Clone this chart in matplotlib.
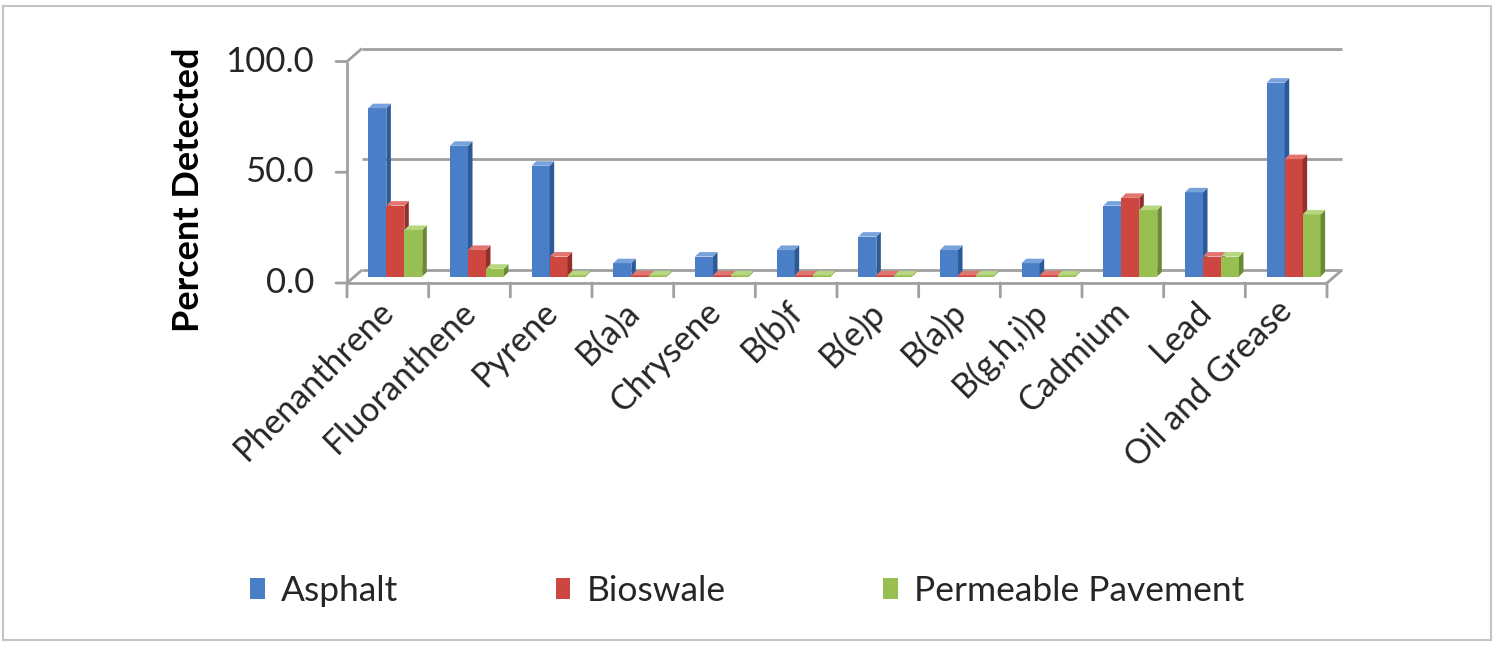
import matplotlib

matplotlib.use("Agg")
import matplotlib.pyplot as plt
import matplotlib.transforms as mtransforms
from matplotlib.patches import Polygon, Rectangle

categories = ["Phenanthrene", "Fluoranthene", "Pyrene", "B(a)a", "Chrysene",
              "B(b)f", "B(e)p", "B(a)p", "B(g,h,i)p", "Cadmium", "Lead",
              "Oil and Grease"]
asphalt = [76.0, 59.0, 50.0, 6.0, 9.0, 12.0, 18.0, 12.0, 6.0, 32.0, 38.0, 87.5]
bioswale = [32.0, 12.0, 9.0, 0.5, 0.5, 0.5, 0.5, 0.5, 0.5, 35.5, 9.0, 53.0]
permeable = [21.0, 3.5, 0.5, 0.5, 0.5, 0.5, 0.5, 0.5, 0.5, 30.0, 9.0, 28.0]
series_names = ["Asphalt", "Bioswale", "Permeable Pavement"]
y_ticks = [0, 50, 100]

# front / side / top shades for each series
shades = [
    ("#4A7EC6", "#2D5A96", "#78A2DC"),
    ("#CE4640", "#93302B", "#E27570"),
    ("#97BF52", "#678A32", "#B6D67F"),
]

W, H, DPI = 1497, 645, 100
plt.rcParams["font.family"] = ["Lato", "DejaVu Sans"]

fig = plt.figure(figsize=(W / DPI, H / DPI), dpi=DPI)
fig.patches.append(Rectangle((3 / W, 5 / H), 1488 / W, 634 / H, transform=fig.transFigure,
                             fill=False, edgecolor="#c4c4c4", lw=1.5))

# axes sit on the mid-depth plane of the 3-D box
left, right, y0, y100 = 354.5, 1334.5, 276.5, 55.0
ax = fig.add_axes([left / W, (H - y0) / H, (right - left) / W, (y0 - y100) / H])
ax.set_xlim(-0.5, len(categories) - 0.5)
ax.set_ylim(0, 100)
ax.axis("off")

px_x = (right - left) / len(categories)
px_y = (y0 - y100) / 100.0

depth_dx, depth_dy = 7.5, 6.5
front = mtransforms.offset_copy(ax.transData, fig, x=-depth_dx, y=-depth_dy, units="dots")
back = mtransforms.offset_copy(ax.transData, fig, x=depth_dx, y=depth_dy, units="dots")
line_color = "#a0a0a0"
grid_kw = dict(color=line_color, lw=2.0, clip_on=False, solid_capstyle="butt")

xmin, xmax = -0.5, len(categories) - 0.5
for v in y_ticks:
    ax.plot([xmin, xmax], [v, v], transform=back, zorder=1, **grid_kw)

# left wall and floor edges
ax.plot([xmin, xmin], [0, 100], transform=front, zorder=1, **grid_kw)
ax.plot([xmax, xmax + 2 * depth_dx / px_x], [0, 2 * depth_dy / px_y],
        transform=front, zorder=1, **grid_kw)
for v in [0, 100]:
    ax.plot([xmin, xmin + 2 * depth_dx / px_x], [v, v + 2 * depth_dy / px_y],
            transform=front, zorder=1, **grid_kw)
ax.plot([xmin, xmax], [0, 0], transform=front, zorder=1, **grid_kw)

tick_kw = dict(arrowstyle="-", color=line_color, lw=2.0, shrinkA=0, shrinkB=0)
for v in y_ticks:
    ax.annotate("", xy=(xmin, v), xytext=(-11, 0), xycoords=front,
                textcoords="offset pixels", arrowprops=tick_kw)
    ax.text(xmin, v, f"{v:.1f}", transform=mtransforms.offset_copy(
        front, fig, x=-33, y=0, units="dots"),
        ha="right", va="center", fontsize=25, color="#262626")

for b in range(len(categories) + 1):
    ax.annotate("", xy=(xmin + b, 0), xytext=(0, -14), xycoords=front,
                textcoords="offset pixels", arrowprops=tick_kw)

label_tr = mtransforms.offset_copy(front, fig, x=-10, y=-12, units="dots")
for i, name in enumerate(categories):
    ax.text(i, 0, name, transform=label_tr, rotation=45, rotation_mode="anchor",
            ha="right", va="top", fontsize=24.5, color="#262626")

# clustered 3-D columns
width = 0.22
ddx, ddy = 4.5 / px_x, 4.5 / px_y
z = 3
for i in range(len(categories)):
    for k, vals in enumerate([asphalt, bioswale, permeable]):
        v = vals[i]
        x0 = i + (k - 1) * width - width / 2
        x1 = x0 + width
        fc, sc, tc = shades[k]
        ax.bar(x0, v, width=width, align="edge", color=fc, zorder=z)
        ax.add_patch(Polygon([(x1, 0), (x1, v), (x1 + ddx, v + ddy), (x1 + ddx, ddy)],
                             closed=True, facecolor=sc, edgecolor="none", zorder=z))
        ax.add_patch(Polygon([(x0, v), (x1, v), (x1 + ddx, v + ddy), (x0 + ddx, v + ddy)],
                             closed=True, facecolor=tc, edgecolor="none", zorder=z,
                             clip_on=False))
        z += 1

fig.text(189 / W, 1 - 190 / H, "Percent Detected", rotation=90, ha="center",
         va="center", fontsize=26, fontweight="bold", color="black")

handles = [Rectangle((0, 0), 1, 1, facecolor=s[0], edgecolor="none") for s in shades]
fig.legend(handles, series_names, loc="center", bbox_to_anchor=(747 / W, 1 - 591 / H),
           ncol=3, frameon=False, fontsize=25.5, handlelength=0.42, handleheight=0.5,
           handletextpad=0.45, columnspacing=4.45, labelcolor="#262626")

fig.savefig("out.png", dpi=DPI)
